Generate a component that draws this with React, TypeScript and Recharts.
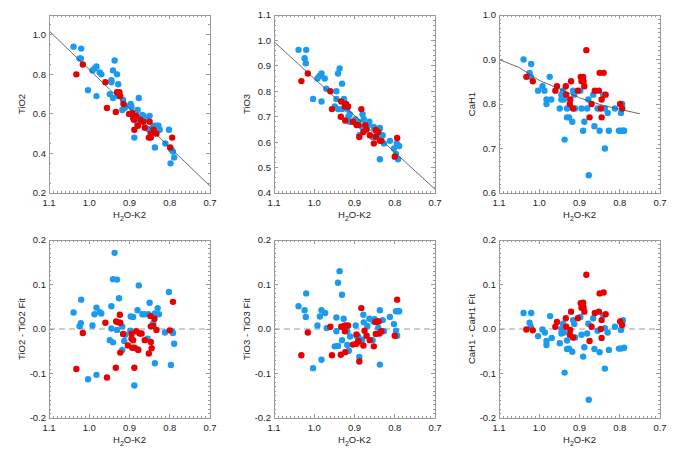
import React from 'react';
import { ScatterChart, Scatter, XAxis, YAxis, ReferenceLine } from 'recharts';

// ---- data (x = H2O-K2 index) ----
const tio2Blue = [[1.039,0.94],[1.02,0.93],[1.024,0.88],[1.021,0.88],[1.003,0.72],[0.992,0.82],[0.987,0.83],[0.982,0.84],[0.982,0.69],[0.974,0.81],[0.970,0.80],[0.945,0.77],[0.945,0.76],[0.937,0.87],[0.941,0.82],[0.931,0.80],[0.928,0.75],[0.949,0.70],[0.941,0.68],[0.929,0.69],[0.916,0.67],[0.918,0.62],[0.912,0.63],[0.910,0.64],[0.897,0.65],[0.895,0.635],[0.888,0.48],[0.881,0.55],[0.880,0.62],[0.877,0.68],[0.868,0.595],[0.865,0.59],[0.855,0.57],[0.852,0.52],[0.850,0.59],[0.843,0.53],[0.838,0.54],[0.837,0.43],[0.832,0.54],[0.828,0.54],[0.825,0.52],[0.811,0.45],[0.802,0.52],[0.796,0.42],[0.798,0.35],[0.792,0.41],[0.789,0.38]];
const tio2Red = [[1.016,0.85],[1.032,0.80],[0.960,0.76],[0.956,0.63],[0.934,0.61],[0.931,0.71],[0.925,0.71],[0.923,0.69],[0.915,0.65],[0.901,0.60],[0.893,0.605],[0.891,0.58],[0.889,0.57],[0.888,0.52],[0.883,0.59],[0.879,0.54],[0.873,0.57],[0.866,0.56],[0.862,0.53],[0.852,0.48],[0.850,0.56],[0.847,0.50],[0.847,0.48],[0.84,0.52],[0.833,0.50],[0.799,0.43],[0.794,0.48]];
const tio2Fit = [[1.1,1.02],[0.7,0.235]];

const tio3Blue = [[1.039,0.963],[1.02,0.963],[1.024,0.93],[1.021,0.91],[1.003,0.77],[0.992,0.85],[0.987,0.86],[0.982,0.87],[0.982,0.76],[0.974,0.85],[0.970,0.81],[0.945,0.80],[0.945,0.77],[0.937,0.89],[0.941,0.87],[0.931,0.83],[0.926,0.77],[0.949,0.74],[0.941,0.73],[0.931,0.73],[0.918,0.73],[0.915,0.70],[0.912,0.71],[0.912,0.68],[0.898,0.69],[0.895,0.68],[0.891,0.68],[0.888,0.627],[0.880,0.71],[0.877,0.69],[0.881,0.66],[0.866,0.667],[0.863,0.68],[0.855,0.62],[0.852,0.66],[0.850,0.653],[0.843,0.627],[0.838,0.653],[0.837,0.533],[0.837,0.656],[0.830,0.627],[0.827,0.595],[0.812,0.605],[0.802,0.575],[0.797,0.554],[0.795,0.595],[0.792,0.533],[0.789,0.585]];
const tio3Red = [[1.016,0.87],[1.032,0.84],[0.960,0.80],[0.956,0.73],[0.934,0.70],[0.933,0.76],[0.924,0.74],[0.923,0.685],[0.921,0.75],[0.916,0.74],[0.904,0.68],[0.895,0.667],[0.890,0.667],[0.888,0.62],[0.883,0.73],[0.878,0.64],[0.873,0.667],[0.870,0.65],[0.862,0.627],[0.852,0.595],[0.847,0.648],[0.847,0.62],[0.841,0.64],[0.837,0.605],[0.833,0.605],[0.800,0.543],[0.794,0.616]];
const tio3Fit = [[1.1,0.995],[0.7,0.415]];

const cah1Blue = [[1.039,0.90],[1.024,0.87],[1.021,0.861],[1.02,0.89],[1.003,0.83],[0.992,0.84],[0.987,0.83],[0.982,0.81],[0.982,0.80],[0.974,0.861],[0.970,0.81],[0.949,0.79],[0.945,0.821],[0.945,0.81],[0.941,0.83],[0.939,0.81],[0.937,0.72],[0.931,0.79],[0.931,0.77],[0.926,0.77],[0.918,0.76],[0.916,0.83],[0.913,0.821],[0.911,0.79],[0.898,0.83],[0.895,0.79],[0.891,0.74],[0.888,0.76],[0.881,0.79],[0.878,0.81],[0.877,0.64],[0.866,0.821],[0.863,0.75],[0.855,0.79],[0.850,0.74],[0.841,0.821],[0.837,0.70],[0.837,0.79],[0.830,0.78],[0.827,0.74],[0.812,0.79],[0.802,0.74],[0.797,0.78],[0.797,0.74],[0.794,0.80],[0.792,0.74],[0.789,0.74]];
const cah1Red = [[1.032,0.861],[1.016,0.851],[0.960,0.83],[0.956,0.84],[0.934,0.84],[0.933,0.821],[0.924,0.80],[0.923,0.81],[0.921,0.851],[0.916,0.79],[0.904,0.83],[0.897,0.861],[0.895,0.851],[0.891,0.861],[0.890,0.851],[0.888,0.84],[0.883,0.921],[0.875,0.77],[0.870,0.80],[0.862,0.83],[0.852,0.83],[0.850,0.87],[0.847,0.79],[0.845,0.81],[0.845,0.77],[0.840,0.87],[0.835,0.821],[0.799,0.80],[0.794,0.79]];
const cah1Fit = [[1.1,0.900],[1.05,0.882],[1.0,0.853],[0.95,0.834],[0.9,0.814],[0.85,0.799],[0.8,0.788],[0.75,0.778]];

const tio2ResBlue = [[1.039,0.037],[1.024,0.006],[1.021,0.013],[1.02,0.066],[1.003,-0.113],[0.992,0.008],[0.987,0.033],[0.982,0.048],[0.982,-0.103],[0.974,0.038],[0.970,0.035],[0.945,0.051],[0.945,0.001],[0.949,-0.025],[0.941,-0.03],[0.941,0.112],[0.937,0.171],[0.931,0.111],[0.931,-0.002],[0.926,0.069],[0.918,0.006],[0.918,-0.047],[0.913,-0.027],[0.911,-0.013],[0.898,-0.004],[0.897,0.028],[0.891,0.027],[0.888,-0.127],[0.881,-0.045],[0.877,0.098],[0.880,0.042],[0.868,0.033],[0.863,0.033],[0.855,-0.022],[0.853,0.033],[0.850,0.059],[0.841,0.013],[0.837,-0.077],[0.837,0.035],[0.830,0.047],[0.827,0.033],[0.812,-0.008],[0.802,0.083],[0.797,-0.081],[0.795,-0.005],[0.792,-0.009],[0.789,-0.033]];
const tio2ResRed = [[1.016,-0.009],[1.032,-0.09],[0.960,0.014],[0.956,-0.109],[0.934,-0.087],[0.933,0.017],[0.928,0.015],[0.924,0.032],[0.923,0.014],[0.923,-0.053],[0.916,-0.011],[0.904,-0.037],[0.895,-0.011],[0.895,-0.022],[0.893,-0.042],[0.891,-0.025],[0.888,-0.042],[0.888,-0.087],[0.883,-0.005],[0.878,-0.047],[0.875,-0.01],[0.870,-0.01],[0.862,-0.025],[0.852,-0.055],[0.848,0.029],[0.847,-0.029],[0.847,0.006],[0.845,-0.043],[0.841,0.007],[0.838,0.023],[0.833,-0.002],[0.800,-0.003],[0.792,0.061]];

const tio3ResBlue = [[1.039,0.051],[1.024,0.042],[1.021,0.027],[1.02,0.08],[1.003,-0.088],[0.992,0.008],[0.986,0.028],[0.982,0.042],[0.982,-0.069],[0.973,0.036],[0.969,0.002],[0.945,0.026],[0.945,-0.005],[0.949,-0.039],[0.941,-0.038],[0.941,0.104],[0.937,0.13],[0.931,0.077],[0.931,-0.025],[0.927,0.023],[0.918,-0.005],[0.918,-0.036],[0.914,-0.049],[0.911,-0.017],[0.897,0.008],[0.895,-0.015],[0.891,-0.017],[0.888,-0.063],[0.881,-0.024],[0.878,0.032],[0.877,0.015],[0.868,0.007],[0.863,0.023],[0.855,-0.025],[0.853,0.017],[0.850,0.022],[0.841,0.003],[0.837,-0.08],[0.837,0.042],[0.830,0.02],[0.827,-0.005],[0.812,0.027],[0.802,0.011],[0.797,0.04],[0.797,-0.004],[0.794,-0.015],[0.792,0.04],[0.789,0.04]];
const tio3ResRed = [[1.016,-0.008],[1.032,-0.059],[0.960,0.005],[0.956,-0.059],[0.934,-0.058],[0.933,0.005],[0.928,0.006],[0.924,-0.005],[0.923,0.008],[0.923,-0.052],[0.916,0.008],[0.904,-0.035],[0.895,-0.012],[0.895,-0.033],[0.891,-0.028],[0.890,-0.027],[0.888,-0.073],[0.883,0.047],[0.878,-0.037],[0.875,-0.004],[0.870,-0.015],[0.862,-0.025],[0.852,-0.039],[0.848,0.016],[0.847,-0.011],[0.843,0.017],[0.840,0.017],[0.838,-0.01],[0.833,-0.005],[0.800,-0.015],[0.794,0.066]];

const cah1ResBlue = [[1.039,0.036],[1.024,0.014],[1.021,0.005],[1.02,0.036],[1.003,-0.016],[0.992,-0.001],[0.986,-0.008],[0.982,-0.027],[0.982,-0.036],[0.973,0.029],[0.969,-0.02],[0.949,-0.032],[0.945,-0.01],[0.945,0.0],[0.941,0.012],[0.939,-0.008],[0.937,-0.098],[0.931,-0.026],[0.931,-0.045],[0.926,-0.044],[0.918,-0.051],[0.916,0.02],[0.913,0.011],[0.911,-0.019],[0.898,0.027],[0.895,-0.013],[0.891,-0.062],[0.888,-0.041],[0.881,-0.01],[0.878,0.012],[0.877,-0.159],[0.866,0.024],[0.863,-0.045],[0.855,-0.004],[0.850,-0.052],[0.841,0.031],[0.837,-0.089],[0.837,0.002],[0.830,-0.008],[0.827,-0.047],[0.812,0.005],[0.802,-0.044],[0.797,-0.002],[0.797,-0.044],[0.794,0.017],[0.792,0.02],[0.789,-0.042]];
const cah1ResRed = [[1.016,-0.003],[1.032,-0.001],[0.960,0.005],[0.956,0.016],[0.934,0.024],[0.933,0.005],[0.924,-0.013],[0.923,-0.002],[0.921,0.039],[0.916,-0.019],[0.904,0.024],[0.897,0.058],[0.895,0.048],[0.891,0.059],[0.890,0.049],[0.888,0.039],[0.883,0.122],[0.875,-0.027],[0.870,0.005],[0.862,0.036],[0.852,0.039],[0.850,0.08],[0.847,0.0],[0.845,0.02],[0.845,-0.02],[0.840,0.082],[0.835,0.033],[0.799,0.017],[0.794,0.009]];

// tick labels
const xTickLabels = [1.1, 1.0, 0.9, 0.8, 0.7];
const tio2YTicks = [0.2, 0.4, 0.6, 0.8, 1.0];
const tio3YTicks = [0.4, 0.5, 0.6, 0.7, 0.8, 0.9, 1.0, 1.1];
const cah1YTicks = [0.6, 0.7, 0.8, 0.9, 1.0];
const resYTicks = [-0.2, -0.1, 0.0, 0.1, 0.2];

const BLUE = '#1a9bf0';
const RED = '#e60000';
const AXIS = '#999';
const FONT = '"Liberation Sans", Arial, Helvetica, sans-serif';

// plot box inside each 225x225 chart
const PT = 15, PB = 193, PL = 49, PR = 210;

const toXY = (arr: number[][]) => arr.map(([x, y]) => ({ x, y }));
const steps = (lo: number, hi: number, step: number) => {
  const n = Math.round((hi - lo) / step);
  return Array.from({ length: n + 1 }, (_, i) => +(lo + i * step).toFixed(4));
};
const near = (list: number[], v: number) => list.some((m) => Math.abs(m - v) < 1e-6);

const XTick = (props: any) => {
  const { x, payload, index } = props;
  const v = payload.value;
  const major = near(xTickLabels, v);
  const len = major ? 4 : 2;
  return (
    <g>
      {index === 0 && (
        <rect x={PL + 0.5} y={PT + 0.5} width={PR - PL} height={PB - PT} fill="none" stroke={AXIS} strokeWidth={1} />
      )}
      <line x1={x} x2={x} y1={PB} y2={PB - len} stroke={AXIS} strokeWidth={1} shapeRendering="crispEdges" />
      <line x1={x} x2={x} y1={PT} y2={PT + len} stroke={AXIS} strokeWidth={1} shapeRendering="crispEdges" />
      {major && (
        <text x={x} y={PB + 13} textAnchor="middle" fontSize={9.5} fontFamily={FONT} fill="#222">
          {v.toFixed(1)}
        </text>
      )}
    </g>
  );
};

const makeYTick = (labels: number[]) => (props: any) => {
  const { y, payload } = props;
  const v = payload.value;
  const major = near(labels, v);
  const len = major ? 4 : 2;
  return (
    <g>
      <line x1={PL} x2={PL + len} y1={y} y2={y} stroke={AXIS} strokeWidth={1} shapeRendering="crispEdges" />
      <line x1={PR} x2={PR - len} y1={y} y2={y} stroke={AXIS} strokeWidth={1} shapeRendering="crispEdges" />
      {major && (
        <text x={PL - 3} y={y} dy={3.4} textAnchor="end" fontSize={9.5} fontFamily={FONT} fill="#222">
          {v.toFixed(1)}
        </text>
      )}
    </g>
  );
};

const xTitle = () => (
  <text x={(PL + PR) / 2} y={PB + 25} textAnchor="middle" fontSize={9.5} fontFamily={FONT} fill="#222">
    H<tspan dy={2.5} fontSize={7}>2</tspan>
    <tspan dy={-2.5}>O-K2</tspan>
  </text>
);

const yTitle = (text: string) => () => (
  <text
    transform={`translate(25, ${(PT + PB) / 2}) rotate(-90)`}
    textAnchor="middle"
    fontSize={9.5}
    fontFamily={FONT}
    fill="#222"
  >
    {text}
  </text>
);

const dot = (color: string) => (p: any) => <circle cx={p.cx} cy={p.cy} r={3.2} fill={color} />;

const panels = [
  { id: 'tio2', title: 'TiO2', blue: tio2Blue, red: tio2Red, fit: tio2Fit, domain: [0.2, 1.1], labels: tio2YTicks, minor: 0.05, zero: false },
  { id: 'tio3', title: 'TiO3', blue: tio3Blue, red: tio3Red, fit: tio3Fit, domain: [0.4, 1.1], labels: tio3YTicks, minor: 0.02, zero: false },
  { id: 'cah1', title: 'CaH1', blue: cah1Blue, red: cah1Red, fit: cah1Fit, domain: [0.6, 1.0], labels: cah1YTicks, minor: 0.01, zero: false },
  { id: 'tio2r', title: 'TiO2 - TiO2 Fit', blue: tio2ResBlue, red: tio2ResRed, fit: null, domain: [-0.2, 0.2], labels: resYTicks, minor: 0.01, zero: true },
  { id: 'tio3r', title: 'TiO3 - TiO3 Fit', blue: tio3ResBlue, red: tio3ResRed, fit: null, domain: [-0.2, 0.2], labels: resYTicks, minor: 0.01, zero: true },
  { id: 'cah1r', title: 'CaH1 - CaH1 Fit', blue: cah1ResBlue, red: cah1ResRed, fit: null, domain: [-0.2, 0.2], labels: resYTicks, minor: 0.01, zero: true },
];

const xTicks = steps(0.7, 1.1, 0.01);

const Panel = ({ cfg }: { cfg: any }) => {
  const [lo, hi] = cfg.domain;
  return (
    <ScatterChart width={225} height={225} margin={{ top: PT, right: 225 - PR, bottom: 0, left: 0 }}>
      <XAxis
        type="number"
        dataKey="x"
        domain={[0.7, 1.1]}
        reversed
        allowDataOverflow
        ticks={xTicks}
        interval={0}
        tick={XTick}
        tickLine={false}
        axisLine={false}
        height={225 - PB}
        label={xTitle}
      />
      <YAxis
        type="number"
        dataKey="y"
        domain={[lo, hi]}
        allowDataOverflow
        ticks={steps(lo, hi, cfg.minor)}
        interval={0}
        tick={makeYTick(cfg.labels)}
        tickLine={false}
        axisLine={false}
        width={PL}
        label={yTitle(cfg.title)}
      />
      {cfg.zero && <ReferenceLine y={0} stroke={AXIS} strokeWidth={1} strokeDasharray="6 4" />}
      <Scatter data={toXY(cfg.blue)} shape={dot(BLUE)} isAnimationActive={false} />
      <Scatter data={toXY(cfg.red)} shape={dot(RED)} isAnimationActive={false} />
      {cfg.fit && (
        <Scatter
          data={toXY(cfg.fit)}
          line={{ stroke: '#444', strokeWidth: 0.8 }}
          shape={() => <g />}
          isAnimationActive={false}
        />
      )}
    </ScatterChart>
  );
};

export default function App() {
  return (
    <div style={{ position: 'absolute', left: 0, top: 0, width: 675, height: 450, background: '#fff' }}>
      {panels.map((cfg, i) => (
        <div
          key={cfg.id}
          style={{ position: 'absolute', left: (i % 3) * 225, top: Math.floor(i / 3) * 225, width: 225, height: 225 }}
        >
          <Panel cfg={cfg} />
        </div>
      ))}
    </div>
  );
}
